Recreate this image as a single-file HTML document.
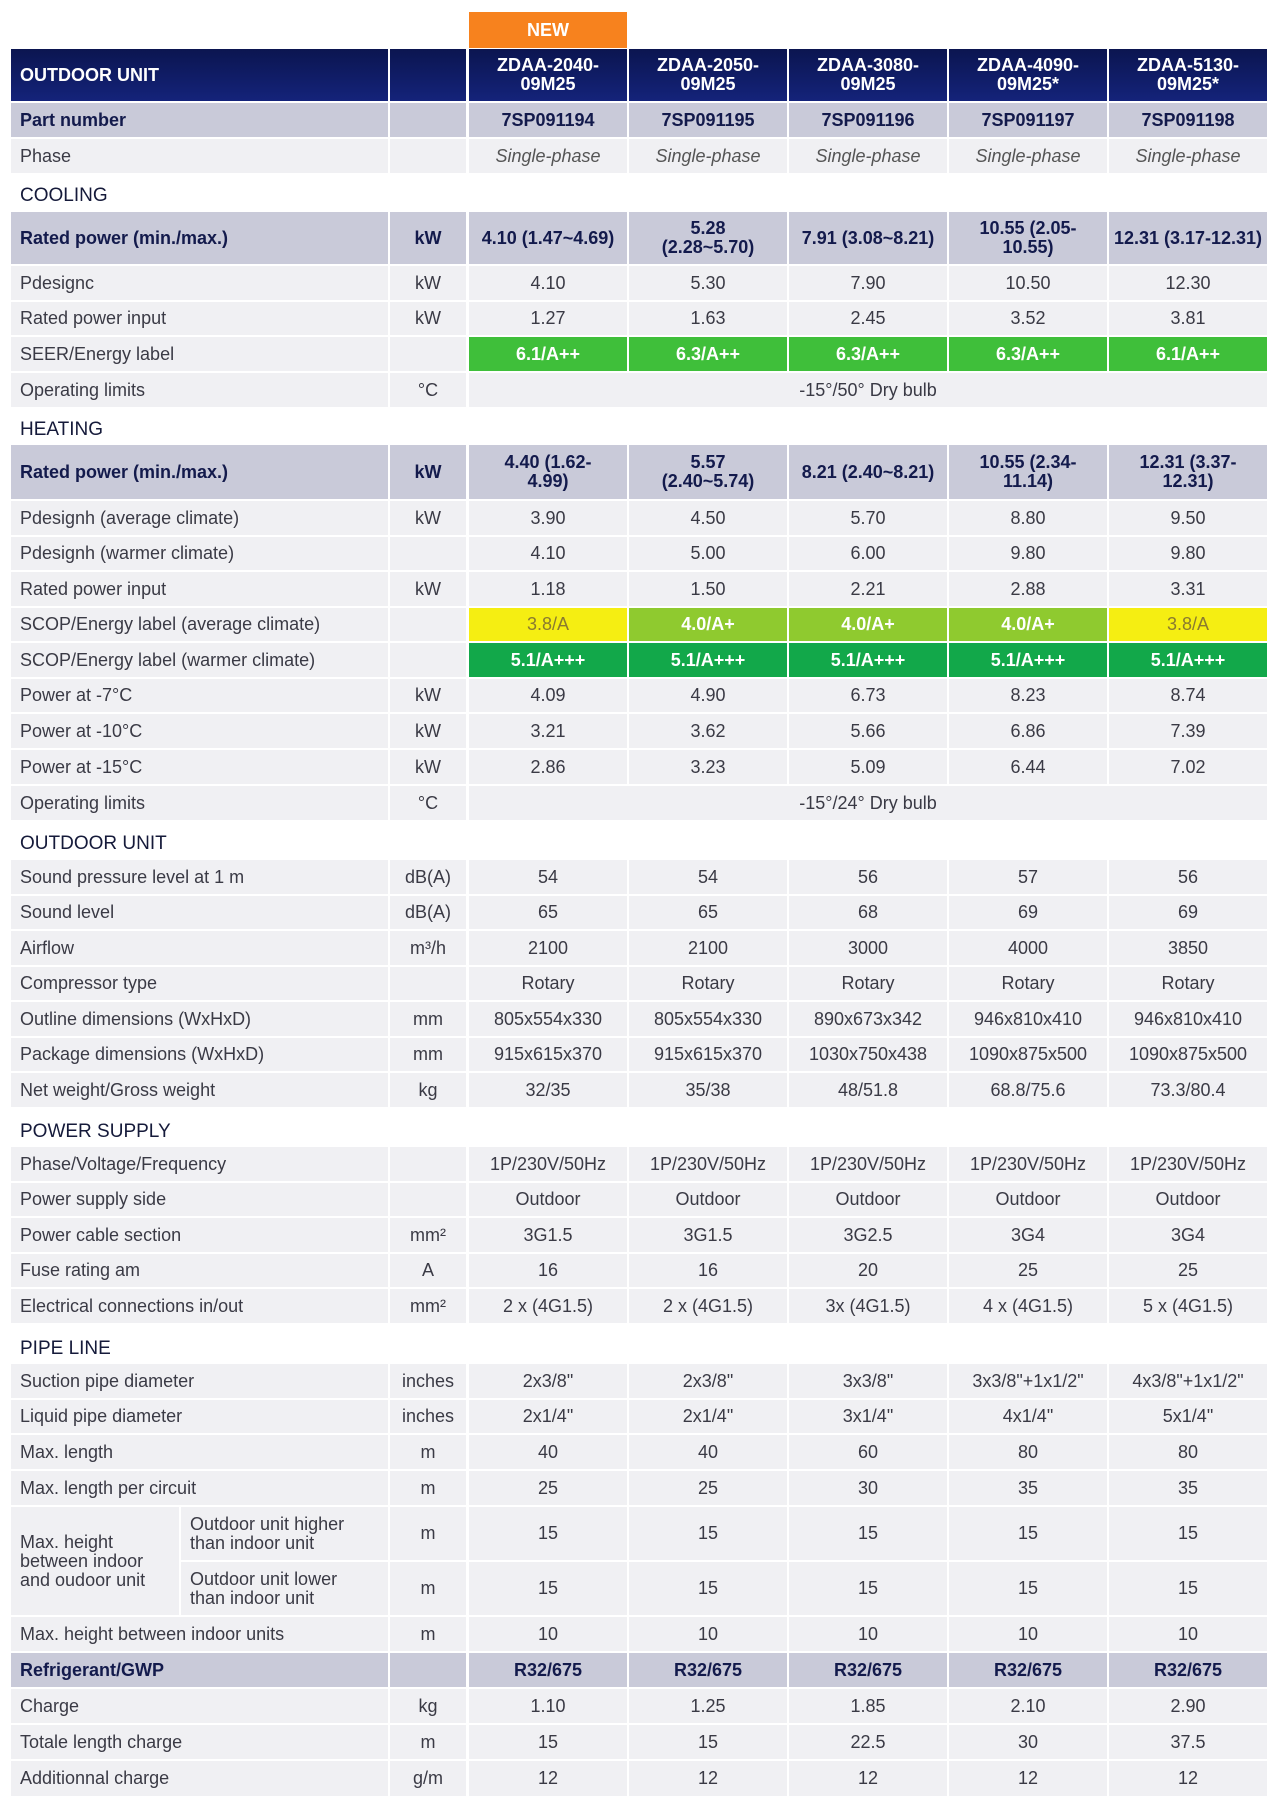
<!DOCTYPE html>
<html><head><meta charset="utf-8">
<style>
body{margin:0;width:1280px;height:1805px;background:#fff;position:relative;font-family:"Liberation Sans",sans-serif;overflow:hidden}
.r{position:absolute;left:0;width:1280px}
.r>div{position:absolute;top:0;bottom:0;display:flex;align-items:center;justify-content:center;background:#f0f0f3;color:#3a3a45;font-size:18px;text-align:center;line-height:19px}
.r>div.c0{left:11px;width:377px;justify-content:flex-start;padding-left:9px;box-sizing:border-box;text-align:left}
.c1{left:390px;width:76px}
.d1{left:469px;width:158px}.d2{left:629px;width:158px}.d3{left:789px;width:158px}.d4{left:949px;width:158px}.d5{left:1109px;width:158px}
.dall{left:469px;width:798px}
.b>div{background:#c9cad9;color:#131a4c;font-weight:bold}
.h>div{background:linear-gradient(#0b1550,#14237a);color:#fff;font-weight:bold;font-size:18px}
.ph>div{font-style:italic;color:#555}
.sec{position:absolute;left:20px;font-size:19px;color:#151a3a;font-weight:normal}
.g{background:#3fbf3a!important;color:#fff!important;font-weight:bold}
.y{background:#f5ee12!important;color:#8a7a30!important}
.l{background:#8fca2f!important;color:#fff!important;font-weight:bold}
.dg{background:#12a84a!important;color:#fff!important;font-weight:bold}
</style></head><body>
<div style="position:absolute;left:469px;top:12px;width:158px;height:36px;background:#f7821e;color:#fff;font-weight:bold;font-size:18px;display:flex;align-items:center;justify-content:center">NEW</div>

<div class="r h" style="top:49px;height:52px"><div class="c0" style="width:377px">OUTDOOR UNIT</div><div class="c1"></div><div class="d1">ZDAA-2040-<br>09M25</div><div class="d2">ZDAA-2050-<br>09M25</div><div class="d3">ZDAA-3080-<br>09M25</div><div class="d4">ZDAA-4090-<br>09M25*</div><div class="d5">ZDAA-5130-<br>09M25*</div></div>
<div class="r b" style="top:103px;height:34px"><div class="c0">Part number</div><div class="c1"></div><div class="d1">7SP091194</div><div class="d2">7SP091195</div><div class="d3">7SP091196</div><div class="d4">7SP091197</div><div class="d5">7SP091198</div></div>
<div class="r ph" style="top:139px;height:34px"><div class="c0" style="font-style:normal;color:#3a3a45">Phase</div><div class="c1"></div><div class="d1">Single-phase</div><div class="d2">Single-phase</div><div class="d3">Single-phase</div><div class="d4">Single-phase</div><div class="d5">Single-phase</div></div>

<div class="sec" style="top:185px">COOLING</div>
<div class="r b" style="top:212px;height:52px"><div class="c0">Rated power (min./max.)</div><div class="c1">kW</div><div class="d1">4.10 (1.47~4.69)</div><div class="d2">5.28<br>(2.28~5.70)</div><div class="d3">7.91 (3.08~8.21)</div><div class="d4">10.55 (2.05-<br>10.55)</div><div class="d5">12.31 (3.17-12.31)</div></div>
<div class="r" style="top:266px;height:34px"><div class="c0">Pdesignc</div><div class="c1">kW</div><div class="d1">4.10</div><div class="d2">5.30</div><div class="d3">7.90</div><div class="d4">10.50</div><div class="d5">12.30</div></div>
<div class="r" style="top:302px;height:33px"><div class="c0">Rated power input</div><div class="c1">kW</div><div class="d1">1.27</div><div class="d2">1.63</div><div class="d3">2.45</div><div class="d4">3.52</div><div class="d5">3.81</div></div>
<div class="r" style="top:337px;height:34px"><div class="c0">SEER/Energy label</div><div class="c1"></div><div class="d1 g">6.1/A++</div><div class="d2 g">6.3/A++</div><div class="d3 g">6.3/A++</div><div class="d4 g">6.3/A++</div><div class="d5 g">6.1/A++</div></div>
<div class="r" style="top:373px;height:34px"><div class="c0">Operating limits</div><div class="c1">°C</div><div class="dall">-15°/50° Dry bulb</div></div>

<div class="sec" style="top:419px">HEATING</div>
<div class="r b" style="top:445px;height:54px"><div class="c0">Rated power (min./max.)</div><div class="c1">kW</div><div class="d1">4.40 (1.62-<br>4.99)</div><div class="d2">5.57<br>(2.40~5.74)</div><div class="d3">8.21 (2.40~8.21)</div><div class="d4">10.55 (2.34-<br>11.14)</div><div class="d5">12.31 (3.37-<br>12.31)</div></div>
<div class="r" style="top:501px;height:34px"><div class="c0">Pdesignh (average climate)</div><div class="c1">kW</div><div class="d1">3.90</div><div class="d2">4.50</div><div class="d3">5.70</div><div class="d4">8.80</div><div class="d5">9.50</div></div>
<div class="r" style="top:537px;height:33px"><div class="c0">Pdesignh (warmer climate)</div><div class="c1"></div><div class="d1">4.10</div><div class="d2">5.00</div><div class="d3">6.00</div><div class="d4">9.80</div><div class="d5">9.80</div></div>
<div class="r" style="top:572px;height:34px"><div class="c0">Rated power input</div><div class="c1">kW</div><div class="d1">1.18</div><div class="d2">1.50</div><div class="d3">2.21</div><div class="d4">2.88</div><div class="d5">3.31</div></div>
<div class="r" style="top:608px;height:33px"><div class="c0">SCOP/Energy label (average climate)</div><div class="c1"></div><div class="d1 y">3.8/A</div><div class="d2 l">4.0/A+</div><div class="d3 l">4.0/A+</div><div class="d4 l">4.0/A+</div><div class="d5 y">3.8/A</div></div>
<div class="r" style="top:643px;height:34px"><div class="c0">SCOP/Energy label (warmer climate)</div><div class="c1"></div><div class="d1 dg">5.1/A+++</div><div class="d2 dg">5.1/A+++</div><div class="d3 dg">5.1/A+++</div><div class="d4 dg">5.1/A+++</div><div class="d5 dg">5.1/A+++</div></div>
<div class="r" style="top:679px;height:33px"><div class="c0">Power at -7°C</div><div class="c1">kW</div><div class="d1">4.09</div><div class="d2">4.90</div><div class="d3">6.73</div><div class="d4">8.23</div><div class="d5">8.74</div></div>
<div class="r" style="top:714px;height:34px"><div class="c0">Power at -10°C</div><div class="c1">kW</div><div class="d1">3.21</div><div class="d2">3.62</div><div class="d3">5.66</div><div class="d4">6.86</div><div class="d5">7.39</div></div>
<div class="r" style="top:750px;height:34px"><div class="c0">Power at -15°C</div><div class="c1">kW</div><div class="d1">2.86</div><div class="d2">3.23</div><div class="d3">5.09</div><div class="d4">6.44</div><div class="d5">7.02</div></div>
<div class="r" style="top:786px;height:34px"><div class="c0">Operating limits</div><div class="c1">°C</div><div class="dall">-15°/24° Dry bulb</div></div>

<div class="sec" style="top:833px">OUTDOOR UNIT</div>
<div class="r" style="top:860px;height:34px"><div class="c0">Sound pressure level at 1 m</div><div class="c1">dB(A)</div><div class="d1">54</div><div class="d2">54</div><div class="d3">56</div><div class="d4">57</div><div class="d5">56</div></div>
<div class="r" style="top:896px;height:33px"><div class="c0">Sound level</div><div class="c1">dB(A)</div><div class="d1">65</div><div class="d2">65</div><div class="d3">68</div><div class="d4">69</div><div class="d5">69</div></div>
<div class="r" style="top:931px;height:34px"><div class="c0">Airflow</div><div class="c1">m³/h</div><div class="d1">2100</div><div class="d2">2100</div><div class="d3">3000</div><div class="d4">4000</div><div class="d5">3850</div></div>
<div class="r" style="top:967px;height:33px"><div class="c0">Compressor type</div><div class="c1"></div><div class="d1">Rotary</div><div class="d2">Rotary</div><div class="d3">Rotary</div><div class="d4">Rotary</div><div class="d5">Rotary</div></div>
<div class="r" style="top:1002px;height:34px"><div class="c0">Outline dimensions (WxHxD)</div><div class="c1">mm</div><div class="d1">805x554x330</div><div class="d2">805x554x330</div><div class="d3">890x673x342</div><div class="d4">946x810x410</div><div class="d5">946x810x410</div></div>
<div class="r" style="top:1038px;height:33px"><div class="c0">Package dimensions (WxHxD)</div><div class="c1">mm</div><div class="d1">915x615x370</div><div class="d2">915x615x370</div><div class="d3">1030x750x438</div><div class="d4">1090x875x500</div><div class="d5">1090x875x500</div></div>
<div class="r" style="top:1073px;height:34px"><div class="c0">Net weight/Gross weight</div><div class="c1">kg</div><div class="d1">32/35</div><div class="d2">35/38</div><div class="d3">48/51.8</div><div class="d4">68.8/75.6</div><div class="d5">73.3/80.4</div></div>

<div class="sec" style="top:1121px">POWER SUPPLY</div>
<div class="r" style="top:1147px;height:34px"><div class="c0">Phase/Voltage/Frequency</div><div class="c1"></div><div class="d1">1P/230V/50Hz</div><div class="d2">1P/230V/50Hz</div><div class="d3">1P/230V/50Hz</div><div class="d4">1P/230V/50Hz</div><div class="d5">1P/230V/50Hz</div></div>
<div class="r" style="top:1183px;height:33px"><div class="c0">Power supply side</div><div class="c1"></div><div class="d1">Outdoor</div><div class="d2">Outdoor</div><div class="d3">Outdoor</div><div class="d4">Outdoor</div><div class="d5">Outdoor</div></div>
<div class="r" style="top:1218px;height:34px"><div class="c0">Power cable section</div><div class="c1">mm²</div><div class="d1">3G1.5</div><div class="d2">3G1.5</div><div class="d3">3G2.5</div><div class="d4">3G4</div><div class="d5">3G4</div></div>
<div class="r" style="top:1254px;height:33px"><div class="c0">Fuse rating am</div><div class="c1">A</div><div class="d1">16</div><div class="d2">16</div><div class="d3">20</div><div class="d4">25</div><div class="d5">25</div></div>
<div class="r" style="top:1289px;height:34px"><div class="c0">Electrical connections in/out</div><div class="c1">mm²</div><div class="d1">2 x (4G1.5)</div><div class="d2">2 x (4G1.5)</div><div class="d3">3x (4G1.5)</div><div class="d4">4 x (4G1.5)</div><div class="d5">5 x (4G1.5)</div></div>

<div class="sec" style="top:1338px">PIPE LINE</div>
<div class="r" style="top:1364px;height:34px"><div class="c0">Suction pipe diameter</div><div class="c1">inches</div><div class="d1">2x3/8"</div><div class="d2">2x3/8"</div><div class="d3">3x3/8"</div><div class="d4">3x3/8"+1x1/2"</div><div class="d5">4x3/8"+1x1/2"</div></div>
<div class="r" style="top:1400px;height:33px"><div class="c0">Liquid pipe diameter</div><div class="c1">inches</div><div class="d1">2x1/4"</div><div class="d2">2x1/4"</div><div class="d3">3x1/4"</div><div class="d4">4x1/4"</div><div class="d5">5x1/4"</div></div>
<div class="r" style="top:1435px;height:34px"><div class="c0">Max. length</div><div class="c1">m</div><div class="d1">40</div><div class="d2">40</div><div class="d3">60</div><div class="d4">80</div><div class="d5">80</div></div>
<div class="r" style="top:1471px;height:34px"><div class="c0">Max. length per circuit</div><div class="c1">m</div><div class="d1">25</div><div class="d2">25</div><div class="d3">30</div><div class="d4">35</div><div class="d5">35</div></div>
<div class="r" style="top:1507px;height:108px"><div class="c0" style="width:168px">Max. height<br>between indoor<br>and oudoor unit</div></div>
<div class="r" style="top:1507px;height:53px"><div class="c0" style="left:181px;width:207px">Outdoor unit higher<br>than indoor unit</div><div class="c1">m</div><div class="d1">15</div><div class="d2">15</div><div class="d3">15</div><div class="d4">15</div><div class="d5">15</div></div>
<div class="r" style="top:1562px;height:53px"><div class="c0" style="left:181px;width:207px">Outdoor unit lower<br>than indoor unit</div><div class="c1">m</div><div class="d1">15</div><div class="d2">15</div><div class="d3">15</div><div class="d4">15</div><div class="d5">15</div></div>
<div class="r" style="top:1617px;height:34px"><div class="c0">Max. height between indoor units</div><div class="c1">m</div><div class="d1">10</div><div class="d2">10</div><div class="d3">10</div><div class="d4">10</div><div class="d5">10</div></div>
<div class="r b" style="top:1653px;height:34px"><div class="c0">Refrigerant/GWP</div><div class="c1"></div><div class="d1">R32/675</div><div class="d2">R32/675</div><div class="d3">R32/675</div><div class="d4">R32/675</div><div class="d5">R32/675</div></div>
<div class="r" style="top:1689px;height:34px"><div class="c0">Charge</div><div class="c1">kg</div><div class="d1">1.10</div><div class="d2">1.25</div><div class="d3">1.85</div><div class="d4">2.10</div><div class="d5">2.90</div></div>
<div class="r" style="top:1725px;height:34px"><div class="c0">Totale length charge</div><div class="c1">m</div><div class="d1">15</div><div class="d2">15</div><div class="d3">22.5</div><div class="d4">30</div><div class="d5">37.5</div></div>
<div class="r" style="top:1761px;height:35px"><div class="c0">Additionnal charge</div><div class="c1">g/m</div><div class="d1">12</div><div class="d2">12</div><div class="d3">12</div><div class="d4">12</div><div class="d5">12</div></div>
</body></html>
